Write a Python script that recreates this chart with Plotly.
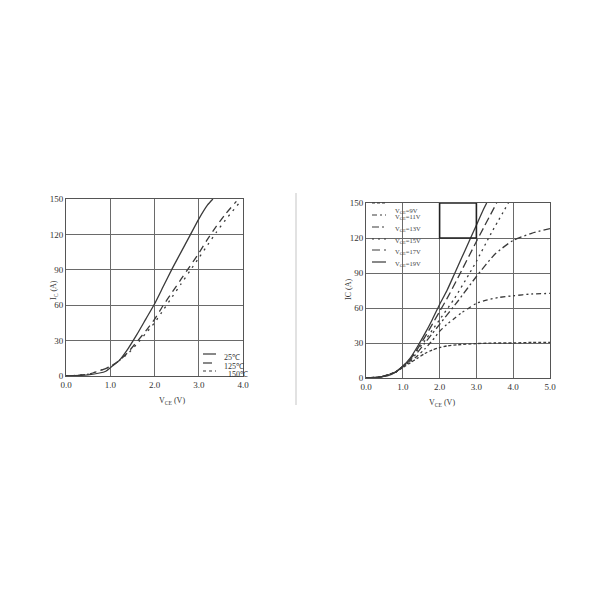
import plotly.graph_objects as go

# ---------------- data: left panel (temperature) ----------------
t25_x = [0, 0.5, 0.9, 1.0, 1.2, 1.4, 1.6, 1.8, 2.0, 2.2, 2.4, 2.6, 2.8, 3.0, 3.2, 3.32]
t25_y = [0, 1, 4, 7, 13, 23, 35, 48, 61, 76, 91, 105, 119, 133, 145, 150]
t125_x = [0, 0.5, 1.0, 1.2, 1.4, 1.6, 1.8, 2.0, 2.2, 2.4, 2.6, 2.8, 3.0, 3.2, 3.4, 3.6, 3.85]
t125_y = [0, 1.5, 8, 13, 20, 29, 38, 48, 60, 71, 82, 93, 104, 116, 127, 137, 148]
t150_x = [0, 0.5, 1.0, 1.2, 1.4, 1.6, 1.8, 2.0, 2.2, 2.4, 2.6, 2.8, 3.0, 3.2, 3.4, 3.6, 3.9]
t150_y = [0, 1.5, 8, 13, 19, 27, 36, 45, 56, 67, 78, 89, 100, 111, 122, 132, 146]
temp_labels = ["25\u2103", "125\u2103", "150\u2103"]

# ---------------- data: right panel (gate voltage) ----------------
v9_x = [0, 0.4, 0.8, 1.0, 1.2, 1.4, 1.6, 1.8, 2.0, 2.2, 2.5, 3.0, 3.5, 4.0, 4.5, 5.0]
v9_y = [0, 1, 5, 9, 13, 17, 21, 24, 26, 27.5, 28.5, 29.5, 30, 30, 30.5, 30.5]
v11_x = [0, 0.4, 0.8, 1.0, 1.2, 1.4, 1.6, 1.8, 2.0, 2.2, 2.4, 2.6, 2.8, 3.0, 3.3, 3.6, 4.0, 4.5, 5.0]
v11_y = [0, 1, 5, 10, 14, 19, 25, 32, 40, 46, 51, 56, 60, 64, 67, 69, 70.5, 72, 72.5]
v13_x = [0, 0.4, 0.8, 1.0, 1.2, 1.4, 1.6, 1.8, 2.0, 2.5, 3.0, 3.5, 4.0, 4.5, 5.0]
v13_y = [0, 1, 5, 10, 15, 22, 30, 38, 46, 66, 87, 106, 118, 124, 128]
v15_x = [0, 0.4, 0.8, 1.0, 1.2, 1.4, 1.6, 1.8, 2.0, 2.4, 2.8, 3.0, 3.4, 3.87]
v15_y = [0, 1, 5, 10, 16, 24, 32, 41, 50, 68, 89, 100, 124, 150]
v17_x = [0, 0.4, 0.8, 1.0, 1.2, 1.4, 1.6, 1.8, 2.0, 2.2, 2.5, 3.0, 3.55]
v17_y = [0, 1, 5, 10, 16, 25, 35, 46, 57, 68, 86, 117, 150]
v19_x = [0, 0.3, 0.6, 0.8, 1.0, 1.2, 1.4, 1.6, 1.8, 2.0, 2.2, 2.4, 2.6, 2.8, 3.0, 3.2, 3.28]
v19_y = [0, 0.5, 2, 5, 10, 17, 27, 38, 50, 63, 75, 89, 103, 117, 131, 145, 150]
vge_labels = ["9V", "11V", "13V", "15V", "17V", "19V"]

zoom_box_x = [2.0, 3.0]
zoom_box_y = [120, 150]

left_xticks = [0, 1, 2, 3, 4]
left_xtext = ["0.0", "1.0", "2.0", "3.0", "4.0"]
right_xticks = [0, 1, 2, 3, 4, 5]
right_xtext = ["0.0", "1.0", "2.0", "3.0", "4.0", "5.0"]
yticks = [0, 30, 60, 90, 120, 150]
ytext = ["0", "30", "60", "90", "120", "150"]

# ---------------- styling ----------------
LC = "#3a3a3a"
GRID = "#6a6a6a"
FONT = "Liberation Serif"
TF = dict(family=FONT, size=9, color="#333")
OFF = 8  # page body margin


def px(x):
    return (x - OFF) / 600


def py(y):
    return 1 - (y - OFF) / 600


fig = go.Figure()

left_series = [
    (t25_x, t25_y, "solid"),
    (t125_x, t125_y, "7px,5px"),
    (t150_x, t150_y, "2px,5px"),
]
for (x, y, d), name in zip(left_series, temp_labels):
    fig.add_trace(go.Scatter(x=x, y=y, mode="lines", name=name,
                             line=dict(color=LC, width=1.3, dash=d, shape="spline", smoothing=0.6),
                             xaxis="x", yaxis="y", showlegend=False))

right_dashes = ["3px,2px", "5px,3px,2px,3px,2px,3px", "7px,3px,2px,3px", "2px,4px", "8px,4px", "solid"]
right_series = [(v9_x, v9_y), (v11_x, v11_y), (v13_x, v13_y), (v15_x, v15_y), (v17_x, v17_y), (v19_x, v19_y)]
for (x, y), d, name in zip(right_series, right_dashes, vge_labels):
    fig.add_trace(go.Scatter(x=x, y=y, mode="lines", name=name,
                             line=dict(color=LC, width=1.3, dash=d, shape="spline", smoothing=0.6),
                             xaxis="x2", yaxis="y2", showlegend=False))

ax_common = dict(showgrid=True, gridcolor=GRID, gridwidth=1.2, zeroline=False, showline=True,
                 linecolor="#555", linewidth=1, mirror=True, tickfont=TF, ticks="", fixedrange=True,
                 automargin=False)

fig.update_layout(
    width=600, height=600, margin=dict(l=0, r=0, t=0, b=0),
    paper_bgcolor="white", plot_bgcolor="white",
    xaxis=dict(domain=[px(66), px(243)], range=[0, 4], tickvals=left_xticks, ticktext=left_xtext,
               anchor="y", **ax_common),
    yaxis=dict(domain=[py(376), py(199)], range=[0, 150], tickvals=yticks, ticktext=ytext,
               anchor="x", **ax_common),
    xaxis2=dict(domain=[px(366), px(550)], range=[0, 5], tickvals=right_xticks, ticktext=right_xtext,
                anchor="y2", **ax_common),
    yaxis2=dict(domain=[py(378), py(203)], range=[0, 150], tickvals=yticks, ticktext=ytext,
                anchor="x2", **ax_common),
)

# axis titles
annos = [
    dict(text="V<sub>CE</sub> (V)", x=px(157), y=py(401), xref="paper", yref="paper", showarrow=False,
         font=dict(family=FONT, size=8, color="#333")),
    dict(text="I<sub>C</sub> (A)", x=px(47), y=py(290), xref="paper", yref="paper", showarrow=False,
         textangle=-90, font=dict(family=FONT, size=8, color="#333")),
    dict(text="V<sub>CE</sub> (V)", x=px(457), y=py(403), xref="paper", yref="paper", showarrow=False,
         font=dict(family=FONT, size=8, color="#333")),
    dict(text="IC (A)", x=px(348), y=py(290), xref="paper", yref="paper", showarrow=False,
         textangle=-90, font=dict(family=FONT, size=8, color="#333")),
]

shapes = []
# left legend (inside plot, lower right)
left_leg_y = [354, 363, 371]
left_leg_dash = ["solid", "dash", "dot"]
for yy, d, lab, tx in zip(left_leg_y, left_leg_dash, temp_labels, [222, 222, 226]):
    shapes.append(dict(type="line", xref="paper", yref="paper", x0=px(203), x1=px(216),
                       y0=py(yy), y1=py(yy), line=dict(color=LC, width=1.2, dash=d)))
    annos.append(dict(text=lab, x=px(tx), y=py(yy + 3), xref="paper", yref="paper", showarrow=False,
                      xanchor="left", font=dict(family=FONT, size=8, color="#333")))

# right legend (inside plot, upper left)
right_leg_y = [203, 215, 227, 239, 250, 262]
for yy, d, lab in zip(right_leg_y, right_dashes, vge_labels):
    shapes.append(dict(type="line", xref="paper", yref="paper", x0=px(372), x1=px(386),
                       y0=py(yy), y1=py(yy), line=dict(color=LC, width=1.2, dash=d)))
    annos.append(dict(text="V<sub>GE</sub>=" + lab, x=px(393), y=py(yy + 2), xref="paper", yref="paper",
                      showarrow=False, xanchor="left", font=dict(family=FONT, size=6.5, color="#444")))

# zoom box on right chart
shapes.append(dict(type="rect", xref="x2", yref="y2", x0=zoom_box_x[0], x1=zoom_box_x[1],
                   y0=zoom_box_y[0], y1=zoom_box_y[1], line=dict(color="#222", width=1.6)))
# separator line
shapes.append(dict(type="line", xref="paper", yref="paper", x0=px(296), x1=px(296),
                   y0=py(405), y1=py(193), line=dict(color="#cfcfcf", width=1.2)))

fig.update_layout(annotations=annos, shapes=shapes)
fig.write_html("out.html")
